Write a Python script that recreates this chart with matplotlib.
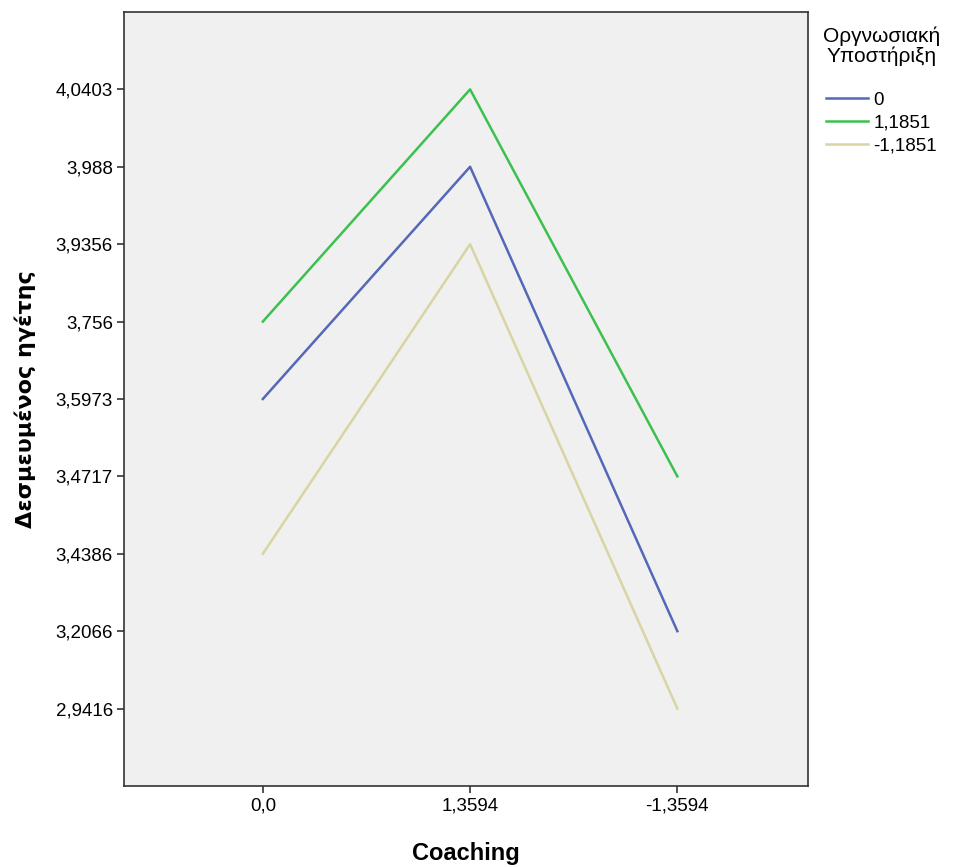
import matplotlib.pyplot as plt

plt.rcParams["font.family"] = ["Liberation Sans", "DejaVu Sans"]

coaching = ["0,0", "1,3594", "-1,3594"]
groups = ["0", "1,1851", "-1,1851"]
colors = ["#5468B8", "#3CC04E", "#D8D4A4"]

# means per support level, in coaching order
blue_vals = ["3,5973", "3,988", "3,2066"]
green_vals = ["3,756", "4,0403", "3,4717"]
beige_vals = ["3,4386", "3,9356", "2,9416"]
series = [blue_vals, green_vals, beige_vals]

# SPSS treats the y values as categories, sorted ascending
y_labels = sorted({v for s in series for v in s}, key=lambda s: float(s.replace(",", ".")))

fig = plt.figure(figsize=(9.55, 8.67), dpi=100)
ax = fig.add_axes([0.1298, 0.0934, 0.7162, 0.8928])
ax.set_facecolor("#F0F0F0")

x = range(len(coaching))
for name, vals, c in zip(groups, series, colors):
    ax.plot(x, [y_labels.index(v) for v in vals], color=c, lw=1.8, label=name)

ax.set_xlim(-0.67, 2.63)
ax.set_ylim(-1, len(y_labels))
ax.set_xticks(list(x))
ax.set_xticklabels(coaching, fontsize=13.5)
ax.set_yticks(range(len(y_labels)))
ax.set_yticklabels(y_labels, fontsize=13.5)
ax.tick_params(length=5, width=1.2, color="#333333", pad=3)
for sp in ax.spines.values():
    sp.set_color("#333333")
    sp.set_linewidth(1.2)

ax.set_xlabel("Coaching", fontsize=17, fontweight="bold", labelpad=20)
ax.set_ylabel("Δεσμευμένος ηγέτης", fontsize=16, fontweight="bold", labelpad=14,
              family=["DejaVu Sans"])

leg = ax.legend(title="Οργνωσιακή\nΥποστήριξη\n", loc="upper left",
                bbox_to_anchor=(1.003, 0.998), frameon=False, fontsize=13.5,
                title_fontsize=15, handlelength=2.2, handletextpad=0.3,
                labelspacing=0.3, borderaxespad=0.3)
leg._legend_box.align = "center"
leg.get_title().set_multialignment("center")
leg.get_title().set_linespacing(1.05)

fig.savefig("out.png", dpi=100)
